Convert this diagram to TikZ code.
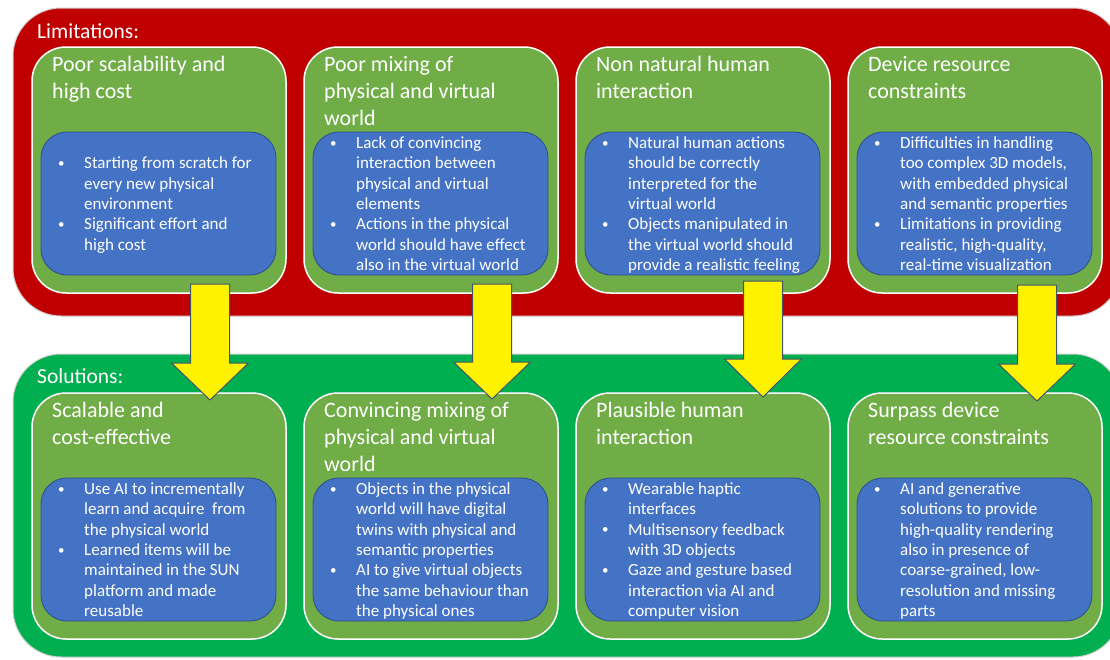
\documentclass[tikz,border=0pt]{standalone}
\usepackage{fontspec}
\setmainfont{Carlito}
\definecolor{redpanel}{HTML}{C00000}
\definecolor{greenpanel}{HTML}{00B050}
\definecolor{cardgreen}{HTML}{70AD47}
\definecolor{cardblue}{HTML}{4472C4}
\definecolor{blueline}{HTML}{2F528F}
\definecolor{arrline}{HTML}{44546A}
\definecolor{panelline}{HTML}{D0D0D0}
\newcommand\bl{\makebox[27pt][l]{\hspace*{1pt}{\fontsize{13}{13}\selectfont\raisebox{1.2pt}{\textbullet}}}}
\newcommand\ii{\hspace*{27pt}}
\tikzset{
  panel/.style={draw=panelline, line width=1pt, rounded corners=48pt},
  gbox/.style={fill=cardgreen, draw=white, line width=1.5pt, rounded corners=34pt},
  bbox/.style={fill=cardblue, draw=blueline, line width=0.9pt, rounded corners=26pt},
  paneltitle/.style={inner sep=0pt, text=white, font=\fontsize{21.5}{25}\selectfont, anchor=base west},
  cardtitle/.style={inner sep=0pt, text=white, font=\fontsize{22}{27}\selectfont, anchor=base west},
  items/.style={inner sep=0pt, text=white, font=\fontsize{17}{20.4}\selectfont, anchor=west},
  yarrow/.style={fill=yellow, draw=arrline, line width=1pt, line join=miter},
}
% #1 name, #2 left x, #3 top y, #4 title rows, #5 item rows
\newcommand\card[5]{%
  \draw[gbox] (#2,#3) rectangle ({#2+254},{#3+246});
  \draw[bbox] ({#2+9},{#3+85}) rectangle ({#2+244},{#3+228});
  \node[cardtitle] (#1t) at ({#2+20},{#3+24}) {\begin{tabular}[t]{@{}l@{}}#4\end{tabular}};
  \node[items] (#1i) at ({#2+25},{#3+158.5}) {\begin{tabular}{@{}l@{}}#5\end{tabular}};
}
% #1 centre x, #2 top, #3 head start, #4 tip
\newcommand\yarr[4]{%
  \draw[yarrow] ({#1-19.5},#2) -- ({#1+19.5},#2) -- ({#1+19.5},#3) -- ({#1+38.5},#3)
    -- (#1,#4) -- ({#1-38.5},#3) -- ({#1-19.5},#3) -- cycle;
}
\begin{document}
\begin{tikzpicture}[x=1pt,y=-1pt]
\useasboundingbox (0,0) rectangle (1110,659);
\clip (0,0) rectangle (1110,659);
\fill[white] (0,0) rectangle (1110,659);
% panels
\draw[panel, fill=redpanel] (13,8) rectangle (1121,316);
\draw[panel, fill=greenpanel] (13,354) rectangle (1121,657);
\node[paneltitle] (limlabel) at (37,38) {Limitations:};
\node[paneltitle] (sollabel) at (37,383) {Solutions:};
% limitations row
\card{l1}{32}{47}{Poor scalability and\\high cost}
 {\bl Starting from scratch for\\ \ii every new physical\\ \ii environment\\ \bl Significant effort and\\ \ii high cost}
\card{l2}{304}{47}{Poor mixing of\\physical and virtual\\world}
 {\bl Lack of convincing\\ \ii interaction between\\ \ii physical and virtual\\ \ii elements\\ \bl Actions in the physical\\ \ii world should have effect\\ \ii also in the virtual world}
\card{l3}{576}{47}{Non natural human\\interaction}
 {\bl Natural human actions\\ \ii should be correctly\\ \ii interpreted for the\\ \ii virtual world\\ \bl Objects manipulated in\\ \ii the virtual world should\\ \ii provide a realistic feeling}
\card{l4}{848}{47}{Device resource\\constraints}
 {\bl Difficulties in handling\\ \ii too complex 3D models,\\ \ii with embedded physical\\ \ii and semantic properties\\ \bl Limitations in providing\\ \ii realistic, high-quality,\\ \ii real-time visualization}
% solutions row
\card{s1}{32}{393}{Scalable and\\cost-effective}
 {\bl Use AI to incrementally\\ \ii learn and acquire\ \ from\\ \ii the physical world\\ \bl Learned items will be\\ \ii maintained in the SUN\\ \ii platform and made\\ \ii reusable}
\card{s2}{304}{393}{Convincing mixing of\\physical and virtual\\world}
 {\bl Objects in the physical\\ \ii world will have digital\\ \ii twins with physical and\\ \ii semantic properties\\ \bl AI to give virtual objects\\ \ii the same behaviour than\\ \ii the physical ones}
\card{s3}{576}{393}{Plausible human\\interaction}
 {\bl Wearable haptic\\ \ii interfaces\\ \bl Multisensory feedback\\ \ii with 3D objects\\ \bl Gaze and gesture based\\ \ii interaction via AI and\\ \ii computer vision}
\card{s4}{848}{393}{Surpass device\\resource constraints}
 {\bl AI and generative\\ \ii solutions to provide\\ \ii high-quality rendering\\ \ii also in presence of\\ \ii coarse-grained, low-\\ \ii resolution and missing\\ \ii parts}
% arrows
\yarr{210}{284}{363}{400}
\yarr{492}{284}{362}{399}
\yarr{763}{281}{359}{397}
\yarr{1037}{285}{364}{401}
\end{tikzpicture}
\end{document}
